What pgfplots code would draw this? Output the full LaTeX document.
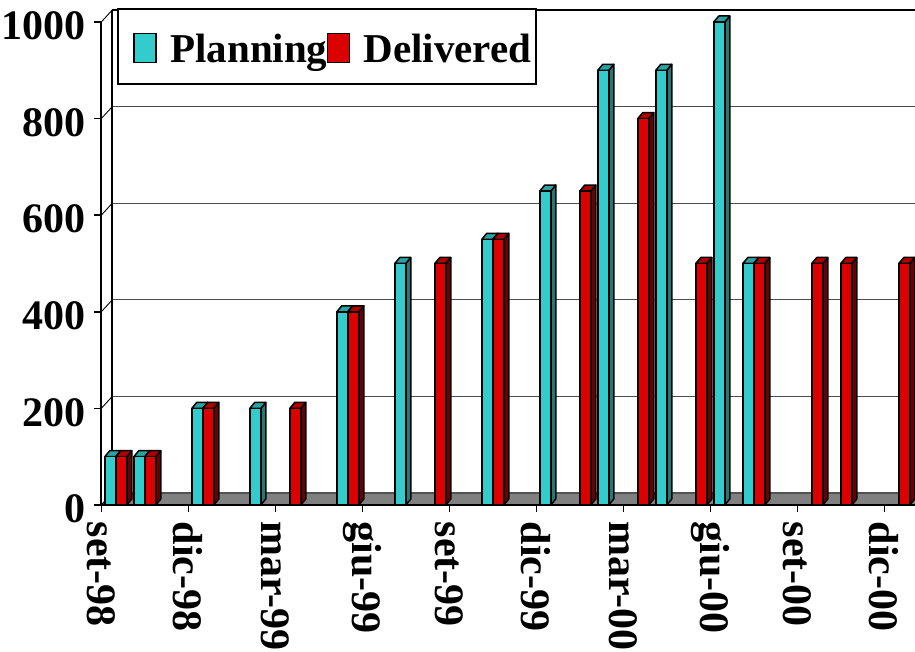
\documentclass[border=0pt]{standalone}
\usepackage{fontspec}
\setmainfont{Liberation Serif}
\usepackage{pgfplots}
\usepackage{pgfplotstable}
\pgfplotsset{compat=1.18}

\definecolor{planFront}{HTML}{33CCCC}
\definecolor{planTop}{HTML}{29A3A3}
\definecolor{planSide}{HTML}{1F7A7A}
\definecolor{delFront}{HTML}{DD0000}
\definecolor{delTop}{HTML}{B00000}
\definecolor{delSide}{HTML}{6A0000}
\definecolor{floorGrey}{HTML}{808080}

\newcommand\bigbf{\bfseries\fontsize{42}{42}\selectfont}
\newcommand\legbf{\bfseries\fontsize{41}{41}\selectfont}

% m = months after September 1998, v = value
\pgfplotstableread{
m v
0 100
1 100
3 200
5 200
8 400
10 500
13 550
15 650
17 900
19 900
21 1000
22 500
}\planning

\pgfplotstableread{
m v
0 100
1 100
3 200
6 200
8 400
11 500
13 550
16 650
18 800
20 500
22 500
24 500
25 500
27 500
}\delivered

\pgfdeclareplotmark{blank}{}

% one 3D column: front face from #1 to #2 (pt, relative to the month centre),
% #3 = #2+5, #4 = #1+5 (back edge of the top face); the column hangs down
% from the data point by its value (point meta mapped onto 0..1000) times the y unit
\newcommand\prism[7]{%
  \pgfmathsetmacro\H{\pgfplotspointmetatransformed*0.483}%
  \pgfmathsetmacro\Hs{6-\H}%
  \begin{scope}[xshift=2pt, yshift=0.5pt, line width=1.5pt, line join=round, draw=black]
    \filldraw[fill=#7] (#2pt,-\H pt) -- (#3pt,\Hs pt) -- (#3pt,6pt) -- (#2pt,0pt) -- cycle;
    \filldraw[fill=#6] (#1pt,0pt) -- (#2pt,0pt) -- (#3pt,6pt) -- (#4pt,6pt) -- cycle;
    \filldraw[fill=#5] (#1pt,-\H pt) rectangle (#2pt,0pt);
  \end{scope}}

% legend key: a box sitting on the text baseline
\newcommand\legendkey[1]{%
  \path (0pt,0pt);
  \draw[line width=1.3pt, fill=#1] (10.5pt,-16.5pt) rectangle (32.5pt,12.5pt);}

\begin{document}
\begin{tikzpicture}
\begin{axis}[
  anchor=origin, at={(0pt,0pt)},
  x=29pt, y=0.483pt,
  xmin=0, xmax=28.06, ymin=0, ymax=1000,
  clip=false,
  axis x line*=bottom, axis y line*=left,
  axis line style={draw=none},
  tick align=outside, major tick length=7pt,
  tick style={black, line width=1.5pt},
  xtick={0,3,...,27},
  xticklabels={set-98,dic-98,mar-99,giu-99,set-99,dic-99,mar-00,giu-00,set-00,dic-00},
  ytick={0,200,...,1000},
  yticklabels={0,200,400,600,800,1000},
  tick label style={font=\bigbf},
  xticklabel style={rotate=-90, anchor=west, inner xsep=11pt, inner ysep=0pt, xshift=-1.5pt},
  yticklabel style={anchor=east, inner xsep=9pt, inner ysep=0pt, yshift=-4pt},
  point meta min=0, point meta max=1000,
  legend columns=2,
  legend style={at={(axis description cs:0.0193,1.029)}, anchor=north west,
    draw=black, line width=1.6pt, fill=white,
    font=\legbf,
    inner xsep=5pt, inner ysep=11pt,
    nodes={inner sep=0pt, text height=43pt, text depth=10pt},
    /tikz/every odd column/.append style={column sep=13.5pt},
    /tikz/every even column/.append style={column sep=-11.5pt}},
]
% floor
\filldraw[fill=floorGrey, draw=black, line width=1pt]
  (axis cs:0,0) -- (axis cs:29,0) -- ([shift={(11pt,12pt)}]axis cs:29,0)
  -- ([shift={(11pt,12pt)}]axis cs:0,0) -- cycle;
% back wall grid and side wall lines
\pgfplotsinvokeforeach{200,400,600,800}{
  \draw[black!70, line width=0.9pt] ([shift={(11pt,12pt)}]axis cs:0,#1) -- ([shift={(11pt,12pt)}]axis cs:29,#1);
}
\pgfplotsinvokeforeach{200,400,600,800,1000}{
  \draw[black, line width=0.9pt] (axis cs:0,#1) -- ([shift={(11pt,12pt)}]axis cs:0,#1);
}
\draw[black, line width=1.6pt] ([shift={(11pt,12pt)}]axis cs:0,1000) -- ([shift={(11pt,12pt)}]axis cs:29,1000);
\draw[black, line width=1.6pt] ([shift={(11pt,12pt)}]axis cs:0,0) -- ([shift={(11pt,12pt)}]axis cs:0,1000);
% front axes
\draw[black, line width=2pt] (axis cs:0,0) -- (axis cs:0,1000);
\draw[black, line width=2.2pt] (axis cs:0,0) -- (axis cs:29,0);

\addplot[scatter, only marks, mark=blank, point meta=\thisrow{v},
  scatter/@pre marker code/.code={\prism{-11}{0}{5}{-6}{planFront}{planTop}{planSide}},
  scatter/@post marker code/.code={},
  legend image code/.code={\legendkey{planFront}}]
  table[x expr=\thisrow{m}+0.5, y=v] {\planning};
\addlegendentry{Planning}

\addplot[scatter, only marks, mark=blank, point meta=\thisrow{v},
  scatter/@pre marker code/.code={\prism{0}{11}{16}{5}{delFront}{delTop}{delSide}},
  scatter/@post marker code/.code={},
  legend image code/.code={\legendkey{delFront}}]
  table[x expr=\thisrow{m}+0.5, y=v] {\delivered};
\addlegendentry{Delivered}
\end{axis}
\pgfresetboundingbox
\useasboundingbox (-101.3pt,-147pt) rectangle (813.7pt,505pt);
\end{tikzpicture}
\end{document}
